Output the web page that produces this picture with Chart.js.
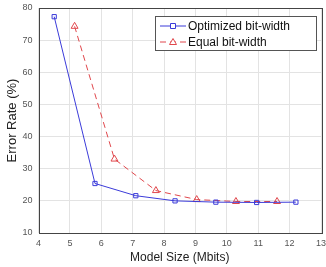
<!DOCTYPE html>
<html>
<head>
<meta charset="utf-8">
<script src="https://cdn.jsdelivr.net/npm/chart.js@4/dist/chart.umd.min.js"></script>
<style>
  html, body { margin: 0; padding: 0; background: #fff; }
  #wrap { width: 326px; height: 267px; }
</style>
</head>
<body>
<div id="wrap"><canvas id="errChart" width="326" height="267"></canvas></div>
<script>
const optSize = [4.5, 5.8, 7.1, 8.35, 9.65, 10.95, 12.2];
const optErr = [77.3, 25.4, 21.6, 20.0, 19.6, 19.5, 19.6];
const eqSize = [5.15, 6.42, 7.74, 9.04, 10.29, 11.6];
const eqErr = [74.3, 33.0, 23.2, 20.4, 19.8, 19.8];
const xTicks = [4, 5, 6, 7, 8, 9, 10, 11, 12, 13];
const yTicks = [10, 20, 30, 40, 50, 60, 70, 80];

const blue = '#3b3bd9';
const red = '#e0474c';
const tickColor = '#555';

function toPoints(xs, ys) {
  return xs.map((x, i) => ({ x: x, y: ys[i] }));
}

// box round the plot plus a MATLAB style legend inside it
const boxAndLegend = {
  id: 'boxAndLegend',
  afterDatasetsDraw(chart) {
    const c = chart.ctx;
    const a = chart.chartArea;
    c.save();
    c.strokeStyle = '#444';
    c.lineWidth = 1;
    c.strokeRect(Math.round(a.left) + 0.5, Math.round(a.top) + 0.5,
      Math.round(a.right - a.left), Math.round(a.bottom - a.top));

    // legend
    const lx = 155.5, ly = 16.5, lw = 161, lh = 34;
    c.fillStyle = '#fff';
    c.fillRect(lx, ly, lw, lh);
    c.strokeStyle = '#555';
    c.strokeRect(lx, ly, lw, lh);
    const rows = [26, 42];
    chart.data.datasets.forEach((ds, i) => {
      const y = rows[i];
      c.strokeStyle = ds.borderColor;
      c.lineWidth = 1;
      c.setLineDash(ds.borderDash || []);
      c.beginPath();
      c.moveTo(160, y);
      c.lineTo(186, y);
      c.stroke();
      c.setLineDash([]);
      c.fillStyle = '#fff';
      c.beginPath();
      if (ds.pointStyle === 'rect') {
        c.rect(170.5, y - 2.5, 5, 5);
      } else {
        c.moveTo(173, y - 3.5);
        c.lineTo(176.5, y + 2.5);
        c.lineTo(169.5, y + 2.5);
        c.closePath();
      }
      c.fill();
      c.stroke();
      c.fillStyle = '#111';
      c.font = '12px "Liberation Sans", Arial, sans-serif';
      c.textBaseline = 'middle';
      c.fillText(ds.label, 188, y + 0.5);
    });
    c.restore();
  }
};

new Chart(document.getElementById('errChart').getContext('2d'), {
  type: 'scatter',
  data: {
    datasets: [{
      label: 'Optimized bit-width',
      data: toPoints(optSize, optErr),
      showLine: true,
      borderColor: blue,
      backgroundColor: '#fff',
      borderWidth: 1,
      pointStyle: 'rect',
      pointRadius: 3,
      pointBorderWidth: 1,
      pointBorderColor: blue,
      pointBackgroundColor: 'rgba(255,255,255,0)'
    }, {
      label: 'Equal bit-width',
      data: toPoints(eqSize, eqErr),
      showLine: true,
      borderColor: red,
      backgroundColor: '#fff',
      borderWidth: 1,
      borderDash: [6, 4],
      pointStyle: 'triangle',
      pointRadius: 4,
      pointBorderWidth: 1,
      pointBorderColor: red,
      pointBackgroundColor: 'rgba(255,255,255,0)'
    }]
  },
  options: {
    responsive: false,
    animation: false,
    layout: { padding: { top: 8, right: 3, left: 0, bottom: 0 } },
    plugins: {
      legend: { display: false },
      tooltip: { enabled: false }
    },
    scales: {
      x: {
        type: 'linear',
        min: 4,
        max: 13,
        afterBuildTicks: (s) => { s.ticks = xTicks.map(v => ({ value: v })); },
        afterFit: (s) => { s.height = 34; s.paddingLeft = 0; s.paddingRight = 0; },
        grid: { color: '#e3e3e3', drawTicks: false },
        border: { display: false },
        ticks: {
          color: tickColor,
          padding: 5,
          maxRotation: 0,
          autoSkip: false,
          font: { size: 9, family: '"Liberation Sans", Arial, sans-serif' }
        },
        title: {
          display: true,
          text: 'Model Size (Mbits)',
          color: '#222',
          padding: { top: 0, bottom: 2 },
          font: { size: 12, family: '"Liberation Sans", Arial, sans-serif' }
        }
      },
      y: {
        min: 10,
        max: 80,
        afterBuildTicks: (s) => { s.ticks = yTicks.map(v => ({ value: v })); },
        afterFit: (s) => { s.width = 38.5; s.paddingTop = 0; s.paddingBottom = 0; },
        grid: { color: '#e3e3e3', drawTicks: false },
        border: { display: false },
        ticks: {
          color: tickColor,
          padding: 6,
          font: { size: 9, family: '"Liberation Sans", Arial, sans-serif' }
        },
        title: {
          display: true,
          text: 'Error Rate (%)',
          color: '#222',
          padding: { top: 5, bottom: 0 },
          font: { size: 13, family: '"Liberation Sans", Arial, sans-serif' }
        }
      }
    }
  },
  plugins: [boxAndLegend]
});
</script>
</body>
</html>
